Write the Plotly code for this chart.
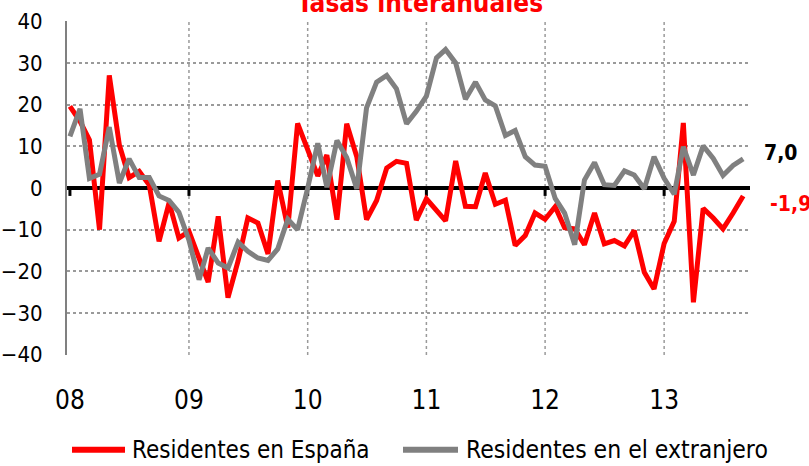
import pandas as pd
import plotly.graph_objects as go

months = pd.date_range("2008-01-01", periods=69, freq="MS")

residentes_espana = [
    19.6, 16.0, 11.5, -10.0, 27.0, 10.3, 2.5, 4.0, 0.7, -12.8, -3.5, -12.0,
    -10.4, -16.4, -22.6, -6.8, -26.3, -17.5, -7.2, -8.4, -15.8, 1.8, -9.5, 15.5,
    9.5, 2.9, 7.9, -7.6, 15.4, 7.5, -7.6, -3.0, 4.8, 6.4, 5.9, -7.7,
    -2.6, -5.2, -7.9, 6.5, -4.4, -4.5, 3.6, -3.9, -2.9, -13.8, -11.4, -6.0,
    -7.5, -4.5, -9.5, -9.8, -13.6, -6.0, -13.4, -12.6, -13.9, -10.2, -20.2, -24.2,
    -13.3, -8.0, 15.6, -27.4, -4.9, -7.2, -9.8, -6.0, -1.9,
]
residentes_extranjero = [
    12.4, 19.0, 2.3, 3.3, 14.6, 1.2, 7.0, 2.5, 2.5, -1.9, -3.0, -5.8,
    -12.5, -22.0, -14.4, -18.0, -19.2, -13.0, -15.2, -16.8, -17.4, -14.6, -7.5, -10.0,
    0.0, 10.7, 0.2, 11.4, 7.3, -0.2, 19.2, 25.4, 27.0, 23.8, 15.4, 18.4,
    22.0, 31.2, 33.2, 30.0, 21.3, 25.4, 21.1, 19.7, 12.6, 13.8, 7.5, 5.5,
    5.2, -2.5, -6.0, -13.6, 1.9, 6.1, 0.8, 0.6, 4.1, 3.1, -0.2, 7.5,
    2.3, -1.5, 9.9, 3.1, 10.1, 7.1, 3.0, 5.4, 7.0,
]
year_ticks = ["2008-01-01", "2009-01-01", "2010-01-01", "2011-01-01", "2012-01-01", "2013-01-01"]
year_labels = ["08", "09", "10", "11", "12", "13"]
y_ticks = [-40, -30, -20, -10, 0, 10, 20, 30, 40]

RED = "#FF0000"
GRAY = "#808080"
FONT = "Liberation Sans Narrow, DejaVu Sans Condensed, Arial Narrow, sans-serif"

fig = go.Figure()
fig.add_trace(go.Scatter(x=months, y=residentes_espana, mode="lines",
                         line=dict(color=RED, width=5), name="Residentes en España"))
fig.add_trace(go.Scatter(x=months, y=residentes_extranjero, mode="lines",
                         line=dict(color=GRAY, width=5), name="Residentes en el extranjero"))

# vertical dotted gridlines (years 09..13)
for d in year_ticks[1:]:
    fig.add_shape(type="line", xref="x", yref="paper", x0=d, x1=d, y0=0, y1=1,
                  line=dict(color="#9a9a9a", width=1.5, dash="dot"), layer="below")
# year tick marks on zero line
for d in year_ticks:
    fig.add_shape(type="line", xref="x", yref="y", x0=d, x1=d, y0=0, y1=-1.9,
                  line=dict(color="black", width=3), layer="below")

fig.update_layout(
    width=809, height=466,
    margin=dict(l=67, r=59, t=20.5, b=110.5, autoexpand=False),
    paper_bgcolor="white", plot_bgcolor="white",
    showlegend=False,
    font=dict(family=FONT, color="black"),
)
fig.update_xaxes(
    type="date", range=["2007-12-23", "2013-09-22"],
    tickvals=year_ticks, ticktext=year_labels,
    showgrid=False, zeroline=False, showline=False, ticks="",
    tickfont=dict(size=26, family=FONT, color="black"),
    ticklabelstandoff=27, automargin=False,
)
fig.update_yaxes(
    range=[-40.05, 40.05], tickvals=y_ticks,
    showgrid=True, gridcolor="#9a9a9a", gridwidth=1.5, griddash="dot",
    zeroline=True, zerolinecolor="black", zerolinewidth=3.5,
    showline=True, linecolor=GRAY, linewidth=2,
    ticks="", tickfont=dict(size=22, family=FONT, color="black"),
    ticklabelstandoff=18, automargin=False,
)

# title (partly cut by the top of the page)
fig.add_annotation(text="<b>Tasas interanuales</b>", xref="paper", yref="paper",
                   x=0.517, y=1, xanchor="center", yanchor="middle", yshift=18.5,
                   showarrow=False, font=dict(size=26, color=RED, family=FONT))
# end labels
fig.add_annotation(text="<b>7,0</b>", xref="x", yref="y", x=months[-1], y=residentes_extranjero[-1],
                   xanchor="left", yanchor="middle", xshift=19, yshift=6,
                   showarrow=False, font=dict(size=21, color="black", family=FONT))
fig.add_annotation(text="<b>-1,9</b>", xref="x", yref="y", x=months[-1], y=residentes_espana[-1],
                   xanchor="left", yanchor="middle", xshift=25, yshift=-8.5,
                   showarrow=False, font=dict(size=21, color=RED, family=FONT))

# legend (drawn manually to match sample line length)
leg_y = -0.284  # paper coordinate (~y=451 px)
def px2paper_x(px):
    return (px - 67) / 683
fig.add_shape(type="line", xref="paper", yref="paper", x0=px2paper_x(72), x1=px2paper_x(125),
              y0=leg_y, y1=leg_y, line=dict(color=RED, width=6))
fig.add_annotation(text="Residentes en España", xref="paper", yref="paper",
                   x=px2paper_x(130), y=leg_y, xanchor="left", yanchor="middle",
                   showarrow=False, font=dict(size=24, color="black", family=FONT))
fig.add_shape(type="line", xref="paper", yref="paper", x0=px2paper_x(403), x1=px2paper_x(458),
              y0=leg_y, y1=leg_y, line=dict(color=GRAY, width=6))
fig.add_annotation(text="Residentes en el extranjero", xref="paper", yref="paper",
                   x=px2paper_x(464), y=leg_y, xanchor="left", yanchor="middle",
                   showarrow=False, font=dict(size=24.5, color="black", family=FONT))

fig.write_html("out.html", config={"displayModeBar": False},
               post_script="document.body.style.margin='0';document.body.style.overflow='hidden';")
